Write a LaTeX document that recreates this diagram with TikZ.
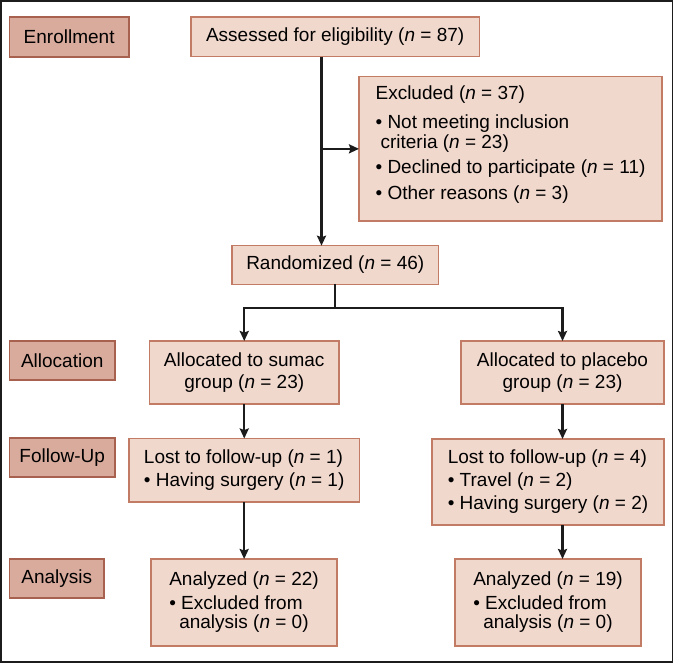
\documentclass[tikz,border=0pt]{standalone}
\usepackage{fontspec}
\setmainfont{Liberation Sans}
\usetikzlibrary{arrows.meta}
\definecolor{labfill}{HTML}{D9AB9C}
\definecolor{labdraw}{HTML}{A8614F}
\definecolor{boxfill}{HTML}{F1D8CD}
\definecolor{boxdraw}{HTML}{C27C66}
\definecolor{linecol}{HTML}{1C1C1C}
\begin{document}
\begin{tikzpicture}[x=1pt,y=-1pt,
  every node/.style={font=\fontsize{19}{23}\selectfont, inner sep=0pt, outer sep=0pt},
  lab/.style={draw=labdraw, fill=labfill, line width=1.4pt, anchor=north west},
  box/.style={draw=boxdraw, fill=boxfill, line width=1.4pt, anchor=north west},
  conn/.style={draw=linecol, line width=2.4pt},
  arr/.style={conn, -{Stealth[length=10pt,width=9pt,inset=1.5pt]}},
  frame/.style={draw=linecol, line width=1.6pt}
]
\useasboundingbox (0,0) rectangle (674,664);
\draw[frame] (0.8,0.8) rectangle (672.4,662);

% stage labels
\node[lab, minimum width=119.7pt, minimum height=40pt] (enr) at (9.3,17) {Enrollment};
\node[lab, minimum width=105.5pt, minimum height=39pt] (allocl) at (9.5,341) {Allocation};
\node[lab, minimum width=105.5pt, minimum height=39pt] (follow) at (9.5,438) {Follow-Up};
\node[lab, minimum width=94.5pt, minimum height=39pt] (anal) at (9.5,559) {Analysis};

% content boxes
\node[box, minimum width=288.3pt, minimum height=39.5pt] (assessed) at (191,17)
  {Assessed for eligibility (\textit{n} = 87)};
\node[box, minimum width=303pt, minimum height=144.3pt, align=left, text depth=13pt] (excl) at (359,76.7)
  {Excluded (\textit{n} = 37)\\[6pt]
   • Not meeting inclusion\\[-3pt]
   \hspace*{5pt}criteria (\textit{n} = 23)\\[2pt]
   • Declined to participate (\textit{n} = 11)\\[3pt]
   • Other reasons (\textit{n} = 3)};
\node[box, minimum width=206.5pt, minimum height=38.6pt] (rand) at (232,245.7)
  {Randomized (\textit{n} = 46)};
\node[box, minimum width=189.5pt, minimum height=63pt, align=center] (sumac) at (149.5,341)
  {Allocated to sumac\\[-1pt] group (\textit{n} = 23)};
\node[box, minimum width=203pt, minimum height=63pt, align=center] (placebo) at (461,341)
  {Allocated to placebo\\[-1pt] group (\textit{n} = 23)};
\node[box, minimum width=230.3pt, minimum height=63.5pt, align=left] (lost1) at (129,438.5)
  {Lost to follow-up (\textit{n} = 1)\\[0.5pt]
   • Having surgery (\textit{n} = 1)};
\node[box, minimum width=232pt, minimum height=86pt, align=left] (lost2) at (432,439)
  {Lost to follow-up (\textit{n} = 4)\\
   • Travel (\textit{n} = 2)\\
   • Having surgery (\textit{n} = 2)};
\node[box, minimum width=186pt, minimum height=87pt, align=left] (an1) at (151,559)
  {Analyzed (\textit{n} = 22)\\[0.5pt]
   • Excluded from\\[-3.5pt]
   \hspace*{10pt}analysis (\textit{n} = 0)};
\node[box, minimum width=186pt, minimum height=87pt, align=left] (an2) at (455,559)
  {Analyzed (\textit{n} = 19)\\[0.5pt]
   • Excluded from\\[-3.5pt]
   \hspace*{10pt}analysis (\textit{n} = 0)};

% connectors
\coordinate (sp) at (321.5,0);
\coordinate (br) at (0,308);
\draw[arr] (assessed.south -| sp) -- (rand.north -| sp);
\draw[arr] (excl.west -| sp) -- (excl.west);
\draw[conn] (rand.south) -- (rand.south |- br);
\draw[arr] (rand.south |- br) -| (sumac.north);
\draw[arr] (rand.south |- br) -| (placebo.north);
\draw[arr] (sumac.south) -- (sumac.south |- lost1.north);
\draw[arr] (lost1.south) -- (lost1.south |- an1.north);
\draw[arr] (placebo.south) -- (placebo.south |- lost2.north);
\draw[arr] (lost2.south -| placebo.south) -- (an2.north -| placebo.south);
\end{tikzpicture}
\end{document}
